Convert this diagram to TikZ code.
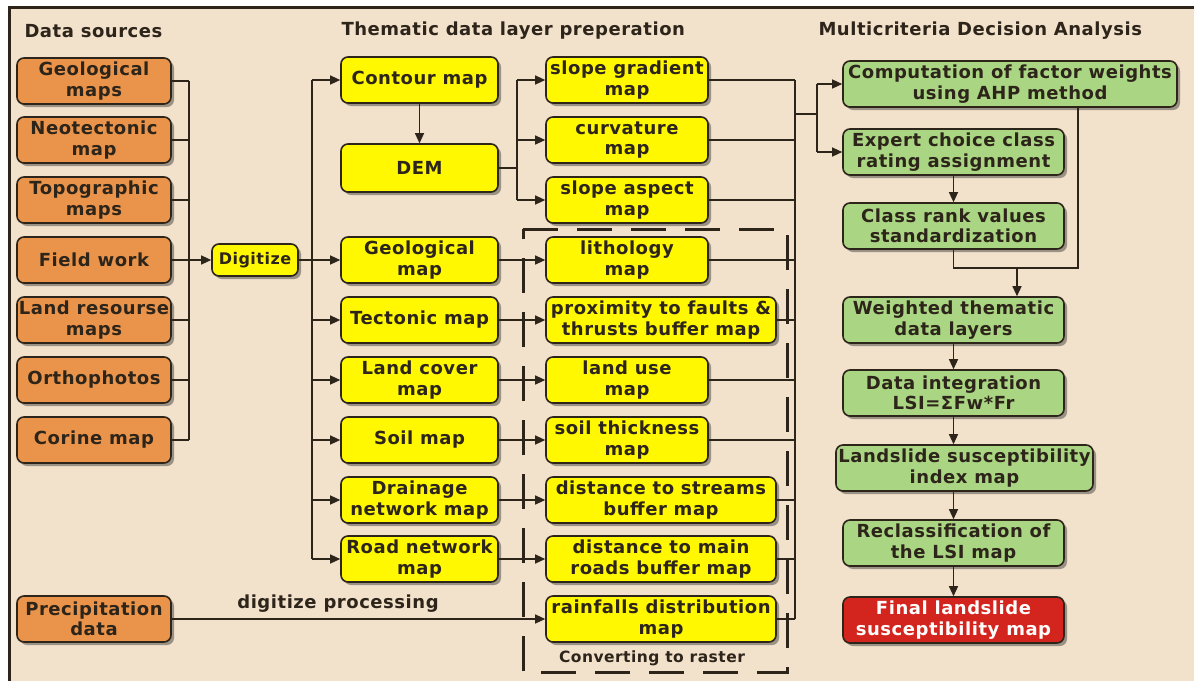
\documentclass[tikz,border=0pt]{standalone}
\usepackage{fontspec}
\setmainfont{DejaVu Sans}[LetterSpace=3]
\usetikzlibrary{arrows.meta,shadows}
\definecolor{bgc}{RGB}{242,225,203}
\definecolor{srcc}{RGB}{233,148,74}
\definecolor{layc}{RGB}{255,248,0}
\definecolor{mcac}{RGB}{170,214,132}
\definecolor{finc}{RGB}{212,36,30}
\definecolor{ink}{RGB}{45,36,26}
\tikzset{
  box/.style={draw=ink, line width=1.6pt, rounded corners=7pt, align=center, inner sep=1pt,
    text=ink, font=\bfseries\fontsize{18}{20.5}\selectfont, minimum height=46pt,
    drop shadow={shadow xshift=3pt, shadow yshift=-3pt, opacity=0.45, fill=black!80}},
  srcbox/.style={box, fill=srcc, minimum width=154pt},
  laybox/.style={box, fill=layc, minimum width=157pt},
  thmbox/.style={box, fill=layc, minimum width=162pt},
  widebox/.style={box, fill=layc, minimum width=230pt},
  mcabox/.style={box, fill=mcac, minimum width=221pt},
  finbox/.style={box, fill=finc, minimum width=221pt, text=white!92!bgc},
  head/.style={anchor=west, text=ink, font=\bfseries\fontsize{18}{20}\selectfont},
  note/.style={text=ink, font=\bfseries\fontsize{18}{20}\selectfont},
  link/.style={draw=ink, line width=1.2pt}
}
\begin{document}
\begin{tikzpicture}[x=1pt, y=-1pt, >={Triangle[length=10pt,width=9pt]}]
  \useasboundingbox (0,0) rectangle (1194,681);
  \fill[white] (0,0) rectangle (1194,681);
  \fill[bgc] (9,7) rectangle (1194,681);
  \draw[ink, line width=3pt] (9,681) -- (9,7) -- (1194,7);

  \node[head] (hsrc) at (21,31) {Data sources};
  \node[head] (hlay) at (338,31) {Thematic data layer preperation};
  \node[head] (hmca) at (815,31) {Multicriteria Decision Analysis};

  \node[srcbox] (geos) at (94,81) {Geological\\maps};
  \node[srcbox] (neot) at (94,140) {Neotectonic\\map};
  \node[srcbox] (topo) at (94,200) {Topographic\\maps};
  \node[srcbox] (field) at (94,260) {Field work};
  \node[srcbox] (landr) at (94,320) {Land resourse\\maps};
  \node[srcbox] (ortho) at (94,380) {Orthophotos};
  \node[srcbox] (corine) at (94,440) {Corine map};
  \node[srcbox] (prec) at (94,619) {Precipitation\\data};

  \node[laybox, minimum width=86pt, minimum height=32pt, font=\bfseries\fontsize{16}{18}\selectfont] (dig) at (255,260) {Digitize};

  \node[laybox] (contour) at (419.5,80) {Contour map};
  \node[laybox, minimum height=48pt] (dem) at (419.5,168) {DEM};
  \node[laybox] (geol) at (419.5,260) {Geological\\map};
  \node[laybox] (tect) at (419.5,320) {Tectonic map};
  \node[laybox] (lcov) at (419.5,380) {Land cover\\map};
  \node[laybox] (soil) at (419.5,440) {Soil map};
  \node[laybox] (drain) at (419.5,500) {Drainage\\network map};
  \node[laybox] (road) at (419.5,559) {Road network\\map};

  \node[thmbox] (slope) at (627,80) {slope gradient\\map};
  \node[thmbox] (curv) at (627,140) {curvature\\map};
  \node[thmbox] (aspect) at (627,200) {slope aspect\\map};
  \node[thmbox] (lith) at (627,260) {lithology\\map};
  \node[widebox] (prox) at (661,320) {proximity to faults \&\\thrusts buffer map};
  \node[thmbox] (luse) at (627,380) {land use\\map};
  \node[thmbox] (sthick) at (627,440) {soil thickness\\map};
  \node[widebox] (strm) at (661,500) {distance to streams\\buffer map};
  \node[widebox] (mroad) at (661,559) {distance to main\\roads buffer map};
  \node[widebox] (rain) at (661,619) {rainfalls distribution\\map};

  \node[mcabox, minimum width=334pt] (comp) at (1010,84) {Computation of factor weights\\using AHP method};
  \node[mcabox] (expc) at (953.5,152) {Expert choice class\\rating assignment};
  \node[mcabox] (rank) at (953.5,226) {Class rank values\\standardization};
  \node[mcabox] (wtd) at (953.5,320) {Weighted thematic\\data layers};
  \node[mcabox] (integ) at (953.5,393) {Data integration\\LSI=ΣFw*Fr};
  \node[mcabox, minimum width=257pt] (lsi) at (964.5,468) {Landslide susceptibility\\index map};
  \node[mcabox] (recl) at (953.5,543) {Reclassification of\\the LSI map};
  \node[finbox] (final) at (953.5,620) {Final landslide\\susceptibility map};

  \coordinate (bl) at (189,0);
  \foreach \n in {geos,neot,topo,landr,ortho,corine}
    \draw[link] (\n.east) -- (\n.east -| bl);
  \draw[link] (geos.east -| bl) -- (corine.east -| bl);
  \draw[link,->] (field) -- (dig);

  \coordinate (bm) at (312,0);
  \draw[link] (dig.east) -- (dig.east -| bm);
  \draw[link] (contour.west -| bm) -- (road.west -| bm);
  \foreach \n in {contour,geol,tect,lcov,soil,drain,road}
    \draw[link,->] (\n.west -| bm) -- (\n.west);
  \draw[link,->] (contour) -- (dem);

  \coordinate (bd) at (517,0);
  \draw[link] (dem.east) -- (dem.east -| bd);
  \draw[link] (slope.west -| bd) -- (aspect.west -| bd);
  \foreach \n in {slope,curv,aspect}
    \draw[link,->] (\n.west -| bd) -- (\n.west);

  \foreach \a/\b in {geol/lith,tect/prox,lcov/luse,soil/sthick,drain/strm,road/mroad}
    \draw[link,->] (\a.east) -- (\b.west);
  \draw[link,->] (prec.east) -- (rain.west);
  \node[note] (dproc) at (338,604) {digitize processing};

  \coordinate (br) at (795,0);
  \foreach \n in {slope,curv,aspect,lith,prox,luse,sthick,strm,mroad,rain}
    \draw[link] (\n.east) -- (\n.east -| br);
  \draw[link] (slope.east -| br) -- (rain.east -| br);
  \coordinate (bj) at (817,114);
  \draw[link] (bj -| br) -- (bj);
  \draw[link] (bj |- comp.west) -- (bj |- expc.west);
  \draw[link,->] (bj |- comp.west) -- (comp.west);
  \draw[link,->] (bj |- expc.west) -- (expc.west);

  \draw[link,->] (expc) -- (rank);
  \coordinate (jn) at (1017,268);
  \coordinate (cw) at (1078,0);
  \draw[link] (rank.south) |- (jn) -| (comp.south -| cw);
  \draw[link,->] (jn) -- (jn |- wtd.north);
  \draw[link,->] (wtd) -- (integ);
  \draw[link,->] (integ.south) -- (integ.south |- lsi.north);
  \draw[link,->] (recl.north |- lsi.south) -- (recl.north);
  \draw[link,->] (recl) -- (final);

  \draw[ink, line width=3pt, dash pattern=on 35pt off 19pt] (523,229) -- (787,229) -- (787,672) -- (523,672) -- cycle;
  \node[note, font=\bfseries\fontsize{15.5}{17}\selectfont] (conv) at (652,658) {Converting to raster};
\end{tikzpicture}
\end{document}
